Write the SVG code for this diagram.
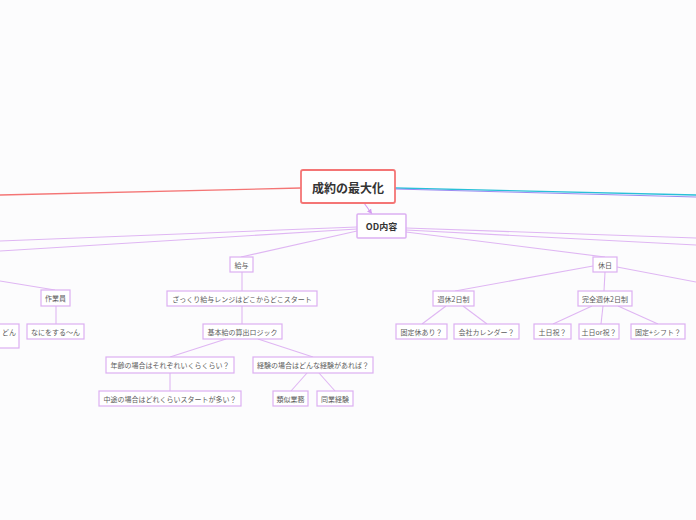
<svg xmlns="http://www.w3.org/2000/svg" width="696" height="520" viewBox="0 0 696 520">
<defs>
<style>
.n rect{fill:#ffffff;stroke:#dcb0f2;stroke-width:1.2}
.n text{font-family:"Noto Sans CJK JP","Noto Sans",sans-serif;font-size:7px;fill:#5c5c5c;text-anchor:middle;dominant-baseline:central}
.c line{stroke:#dfb6f3;stroke-width:1.1;fill:none}
</style>
<marker id="ah" markerWidth="6" markerHeight="6" refX="5" refY="3" orient="auto" markerUnits="userSpaceOnUse">
<path d="M0,0.5 L5,3 L0,5.5 z" fill="#d49cf0"/>
</marker>
</defs>
<rect x="0" y="0" width="696" height="520" fill="#fcfcfd"/>
<g id="connectors" class="c">
<line x1="301" y1="188" x2="0" y2="195" style="stroke:#f47575;stroke-width:1.3"/>
<line x1="395" y1="188" x2="696" y2="195" style="stroke:#28c0d8;stroke-width:1.3"/>
<line x1="395" y1="189" x2="696" y2="197" style="stroke:#9a8cf2;stroke-width:1"/>
<line x1="364" y1="203" x2="372" y2="214" style="stroke:#d49cf0" marker-end="url(#ah)"/>
<line x1="357" y1="227" x2="0" y2="241"/>
<line x1="357" y1="229" x2="0" y2="251"/>
<line x1="357" y1="231" x2="241" y2="257"/>
<line x1="406" y1="228" x2="696" y2="238"/>
<line x1="406" y1="230" x2="696" y2="245"/>
<line x1="406" y1="232" x2="605" y2="257"/>
<line x1="617" y1="267" x2="696" y2="282"/>
<line x1="0" y1="281" x2="55" y2="290"/>
<line x1="56" y1="306" x2="56" y2="324"/>
<line x1="242" y1="272" x2="242" y2="291"/>
<line x1="242" y1="306" x2="242" y2="324"/>
<line x1="226" y1="339" x2="170" y2="357"/>
<line x1="258" y1="339" x2="313" y2="357"/>
<line x1="170" y1="373" x2="170" y2="391"/>
<line x1="307" y1="373" x2="291" y2="391"/>
<line x1="319" y1="373" x2="335" y2="391"/>
<line x1="593" y1="266" x2="455" y2="291"/>
<line x1="605" y1="272" x2="604" y2="291"/>
<line x1="446" y1="306" x2="422" y2="324"/>
<line x1="463" y1="306" x2="487" y2="324"/>
<line x1="592" y1="306" x2="553" y2="324"/>
<line x1="603" y1="306" x2="601" y2="324"/>
<line x1="618" y1="306" x2="658" y2="324"/>
</g>
<g id="root" class="n">
<rect x="301" y="170" width="94" height="33" rx="2" style="stroke:#f47575;stroke-width:1.8"/>
<text x="348" y="187" style="font-size:12px;font-weight:bold;fill:#333">成約の最大化</text>
</g>
<g id="od" class="n">
<rect x="357" y="214" width="49" height="24" rx="1" style="stroke-width:1.5"/>
<text x="381.5" y="226.5" style="font-size:9px;font-weight:bold;fill:#333">OD内容</text>
</g>
<g id="sagyoin" class="n"><rect x="41" y="290" width="29" height="16"/><text x="55.5" y="298">作業員</text></g>
<g id="nanisuru" class="n"><rect x="27" y="324" width="57" height="15"/><text x="55.5" y="331.5">なにをする～ん</text></g>
<g id="don" class="n"><rect x="-60" y="324" width="79" height="24"/><text x="9" y="331.5">どん</text></g>
<g id="kyuyo" class="n"><rect x="230" y="257" width="23" height="15"/><text x="241.5" y="264.5">給与</text></g>
<g id="zakkuri" class="n"><rect x="167" y="291" width="150" height="15"/><text x="242" y="298.5">ざっくり給与レンジはどこからどこスタート</text></g>
<g id="kihonkyu" class="n"><rect x="203" y="324" width="79" height="15"/><text x="242.5" y="331.5">基本給の算出ロジック</text></g>
<g id="nenrei" class="n"><rect x="106" y="357" width="128" height="16"/><text x="170" y="365">年齢の場合はそれぞれいくらくらい？</text></g>
<g id="keiken" class="n"><rect x="253" y="357" width="120" height="16"/><text x="313" y="365">経験の場合はどんな経験があれば？</text></g>
<g id="chuto" class="n"><rect x="99" y="391" width="142" height="15"/><text x="170" y="398.5">中途の場合はどれくらいスタートが多い？</text></g>
<g id="ruiji" class="n"><rect x="273" y="391" width="35" height="15"/><text x="290.5" y="398.5">類似業務</text></g>
<g id="dogyo" class="n"><rect x="317" y="391" width="36" height="15"/><text x="335" y="398.5">同業経験</text></g>
<g id="kyujitsu" class="n"><rect x="593" y="257" width="24" height="15"/><text x="605" y="264.5">休日</text></g>
<g id="shukyu" class="n"><rect x="433" y="291" width="41" height="15"/><text x="453.5" y="298.5">週休2日制</text></g>
<g id="kanzen" class="n"><rect x="578" y="291" width="54" height="15"/><text x="605" y="298.5">完全週休2日制</text></g>
<g id="koteikyu" class="n"><rect x="396" y="324" width="51" height="15"/><text x="421.5" y="331.5">固定休あり？</text></g>
<g id="calendar" class="n"><rect x="454" y="324" width="65" height="15"/><text x="486.5" y="331.5">会社カレンダー？</text></g>
<g id="donichi" class="n"><rect x="534" y="324" width="37" height="15"/><text x="552.5" y="331.5">土日祝？</text></g>
<g id="donichior" class="n"><rect x="579" y="324" width="40" height="15"/><text x="599" y="331.5">土日or祝？</text></g>
<g id="kotei" class="n"><rect x="631" y="324" width="54" height="15"/><text x="658" y="331.5">固定+シフト？</text></g>
</svg>
